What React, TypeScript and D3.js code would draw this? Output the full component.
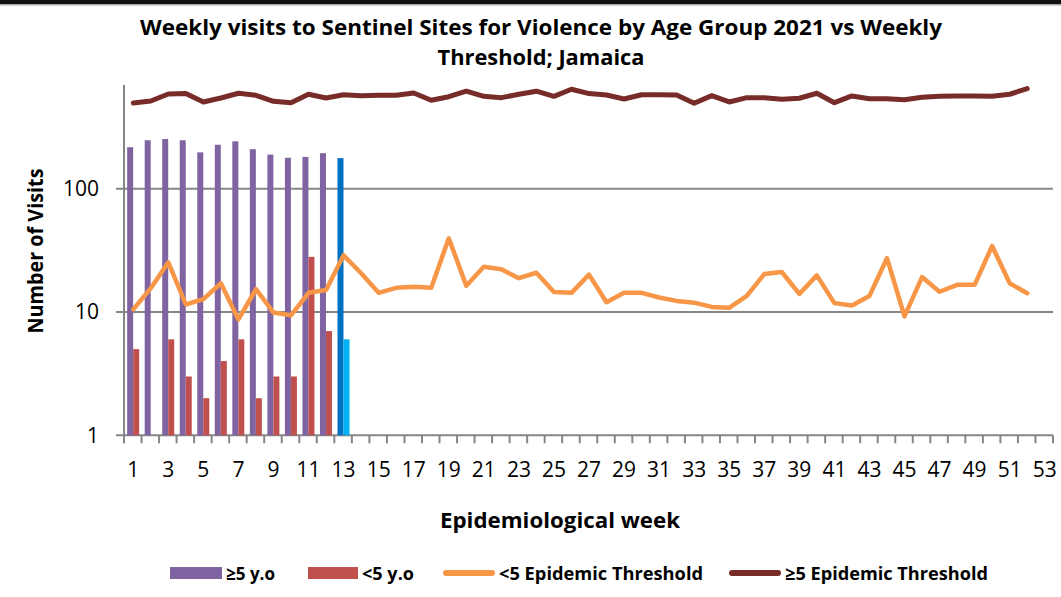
import React, {useEffect, useRef} from 'react';
import * as d3 from 'd3';

// categories (epidemiological weeks)
const weeks: number[] = [
  1, 2, 3, 4, 5, 6, 7, 8, 9, 10, 11, 12, 13, 14, 15, 16, 17, 18, 19, 20, 21, 22, 23, 24, 25, 26, 27,
  28, 29, 30, 31, 32, 33, 34, 35, 36, 37, 38, 39, 40, 41, 42, 43, 44, 45, 46, 47, 48, 49, 50, 51, 52, 53,
];
// visits 2021, weeks 1-13
const over5: number[] = [217, 247, 253, 247, 197, 227, 242, 209, 189, 178, 181, 194, 177];
const under5: (number | null)[] = [5, null, 6, 3, 2, 4, 6, 2, 3, 3, 28, 7, 6];
// weekly thresholds, weeks 1-52
const under5Threshold: number[] = [
  10.5, 15.6, 25.3, 11.5, 12.7, 17.1, 8.7, 15.3, 9.9, 9.4, 14.3, 15.1, 28.8, 20.6, 14.3, 15.7, 16.0,
  15.7, 39.6, 16.3, 23.3, 22.2, 18.8, 20.8, 14.5, 14.3, 20.1, 12.0, 14.3, 14.3, 13.1, 12.3, 11.9, 11.0,
  10.8, 13.5, 20.3, 21.1, 14.0, 19.8, 11.8, 11.3, 13.5, 27.3, 9.2, 19.2, 14.6, 16.6, 16.6, 34.3, 17.1,
  14.2,
];
const over5Threshold: number[] = [
  495, 514, 586, 590, 505, 544, 594, 572, 511, 498, 583, 544, 578, 568, 572, 572, 597, 521, 557, 617,
  561, 547, 583, 617, 561, 640, 590, 575, 534, 578, 578, 575, 493, 568, 505, 547, 547, 531, 541, 594,
  498, 565, 537, 537, 527, 551, 561, 565, 565, 561, 583, 647,
];
const yTicks: number[] = [1, 10, 100];
const legendItems = [
  {label: '\u22655 y.o', kind: 'rect', color: '#8064A2', x: 170, w: 52, tw: 49},
  {label: '<5 y.o', kind: 'rect', color: '#C0504D', x: 308, w: 50, tw: 52},
  {label: '<5 Epidemic Threshold', kind: 'line', color: '#F79646', x: 443, w: 52, tw: 204},
  {label: '\u22655 Epidemic Threshold', kind: 'line', color: '#772C2A', x: 729, w: 52, tw: 203},
];

const App: React.FC = () => {
  const svgRef = useRef<SVGSVGElement>(null);

  useEffect(() => {
    const svg = d3.select(svgRef.current);
    svg.selectAll('*').remove();

    const left = 124;
    const right = 1053;
    const top = 85;
    const bottom = 435.3;
    const font = '"Open Sans", "Liberation Sans", sans-serif';

    // x band scale for weeks
    const x = d3.scaleBand<number>().domain(weeks).range([left, right]).padding(0);
    const bw = x.bandwidth();
    const sub = d3
      .scaleBand<string>()
      .domain(['over', 'under'])
      .range([bw * 0.18, bw * 0.18 + 12]);
    // log y scale
    const y = d3.scaleLog().domain([1, 693]).range([bottom, top]);
    const cx = (w: number) => (x(w) as number) + bw / 2 + 0.5;

    // top border of the page
    svg.append('rect').attr('x', 0).attr('y', 0).attr('width', 1061).attr('height', 4).attr('fill', '#111');
    svg.append('rect').attr('x', 0).attr('y', 4).attr('width', 1061).attr('height', 1.5).attr('fill', '#aaa');

    // title
    const title = svg
      .append('text')
      .attr('text-anchor', 'middle')
      .attr('font-family', font)
      .attr('font-weight', 'bold')
      .attr('font-size', 21.5)
      .attr('fill', '#000');
    title
      .append('tspan')
      .attr('x', 541)
      .attr('y', 35)
      .attr('textLength', 802)
      .attr('lengthAdjust', 'spacingAndGlyphs')
      .text('Weekly visits to Sentinel Sites for Violence by Age Group 2021 vs Weekly');
    title
      .append('tspan')
      .attr('x', 541)
      .attr('y', 65)
      .attr('textLength', 207)
      .attr('lengthAdjust', 'spacingAndGlyphs')
      .text('Threshold; Jamaica');

    // gridlines + y ticks
    svg
      .append('g')
      .selectAll('line')
      .data(yTicks)
      .enter()
      .append('line')
      .attr('x1', left - 8)
      .attr('x2', right)
      .attr('y1', (d) => y(d))
      .attr('y2', (d) => y(d))
      .attr('stroke', '#868686')
      .attr('stroke-width', 2);
    svg
      .append('g')
      .selectAll('text')
      .data(yTicks)
      .enter()
      .append('text')
      .attr('x', 99)
      .attr('y', (d) => y(d) + 7.5)
      .attr('text-anchor', 'end')
      .attr('font-family', font)
      .attr('font-size', 21)
      .attr('fill', '#000')
      .text((d) => String(d));

    // y axis line
    svg
      .append('line')
      .attr('x1', left)
      .attr('x2', left)
      .attr('y1', top)
      .attr('y2', bottom + 8)
      .attr('stroke', '#868686')
      .attr('stroke-width', 2);

    // x ticks at band boundaries
    svg
      .append('g')
      .selectAll('line')
      .data([...weeks, 54])
      .enter()
      .append('line')
      .attr('x1', (d) => left + (d - 1) * bw)
      .attr('x2', (d) => left + (d - 1) * bw)
      .attr('y1', bottom)
      .attr('y2', bottom + 8)
      .attr('stroke', '#868686')
      .attr('stroke-width', 2);
    svg
      .append('g')
      .selectAll('text')
      .data(weeks.filter((w) => w % 2 === 1))
      .enter()
      .append('text')
      .attr('x', (d) => cx(d))
      .attr('y', 477)
      .attr('text-anchor', 'middle')
      .attr('font-family', font)
      .attr('font-size', 21)
      .attr('fill', '#000')
      .text((d) => String(d));

    // bars
    const bars = svg.append('g');
    over5.forEach((v, i) => {
      const w = weeks[i];
      bars
        .append('rect')
        .attr('x', (x(w) as number) + (sub('over') as number))
        .attr('width', sub.bandwidth())
        .attr('y', y(v))
        .attr('height', bottom - y(v))
        .attr('fill', w === 13 ? '#0070C0' : '#8064A2');
    });
    under5.forEach((v, i) => {
      if (v == null) return;
      const w = weeks[i];
      bars
        .append('rect')
        .attr('x', (x(w) as number) + (sub('under') as number))
        .attr('width', sub.bandwidth())
        .attr('y', y(v))
        .attr('height', bottom - y(v))
        .attr('fill', w === 13 ? '#00B0F0' : '#C0504D');
    });

    // threshold lines
    const line = d3
      .line<number>()
      .x((d, i) => cx(weeks[i]))
      .y((d) => y(d));
    svg
      .append('path')
      .attr('d', line(under5Threshold))
      .attr('fill', 'none')
      .attr('stroke', '#F79646')
      .attr('stroke-width', 4.5)
      .attr('stroke-linejoin', 'round')
      .attr('stroke-linecap', 'round');
    svg
      .append('path')
      .attr('d', line(over5Threshold))
      .attr('fill', 'none')
      .attr('stroke', '#772C2A')
      .attr('stroke-width', 5)
      .attr('stroke-linejoin', 'round')
      .attr('stroke-linecap', 'round');

    // axis titles
    svg
      .append('text')
      .attr('transform', 'translate(43,251) rotate(-90)')
      .attr('text-anchor', 'middle')
      .attr('font-family', font)
      .attr('font-weight', 'bold')
      .attr('font-size', 21)
      .attr('textLength', 165)
      .attr('lengthAdjust', 'spacingAndGlyphs')
      .text('Number of Visits');
    svg
      .append('text')
      .attr('x', 560)
      .attr('y', 528)
      .attr('text-anchor', 'middle')
      .attr('font-family', font)
      .attr('font-weight', 'bold')
      .attr('font-size', 21)
      .attr('textLength', 240)
      .attr('lengthAdjust', 'spacingAndGlyphs')
      .text('Epidemiological week');

    // legend
    const legend = svg.append('g');
    legendItems.forEach((d) => {
      if (d.kind === 'rect') {
        legend
          .append('rect')
          .attr('x', d.x)
          .attr('y', 567)
          .attr('width', d.w)
          .attr('height', 12)
          .attr('fill', d.color);
      } else {
        legend
          .append('line')
          .attr('x1', d.x + 3)
          .attr('x2', d.x + d.w - 3)
          .attr('y1', 573)
          .attr('y2', 573)
          .attr('stroke', d.color)
          .attr('stroke-width', 6)
          .attr('stroke-linecap', 'round');
      }
      legend
        .append('text')
        .attr('x', d.x + d.w + 4)
        .attr('y', 580)
        .attr('font-family', font)
        .attr('font-weight', 'bold')
        .attr('font-size', 18)
        .attr('textLength', d.tw)
        .attr('lengthAdjust', 'spacingAndGlyphs')
        .text(d.label);
    });
  }, []);

  return (
    <div style={{position: 'absolute', left: 0, top: 0}}>
      <svg ref={svgRef} width={1061} height={597} style={{display: 'block', background: '#fff'}} />
    </div>
  );
};

export default App;
